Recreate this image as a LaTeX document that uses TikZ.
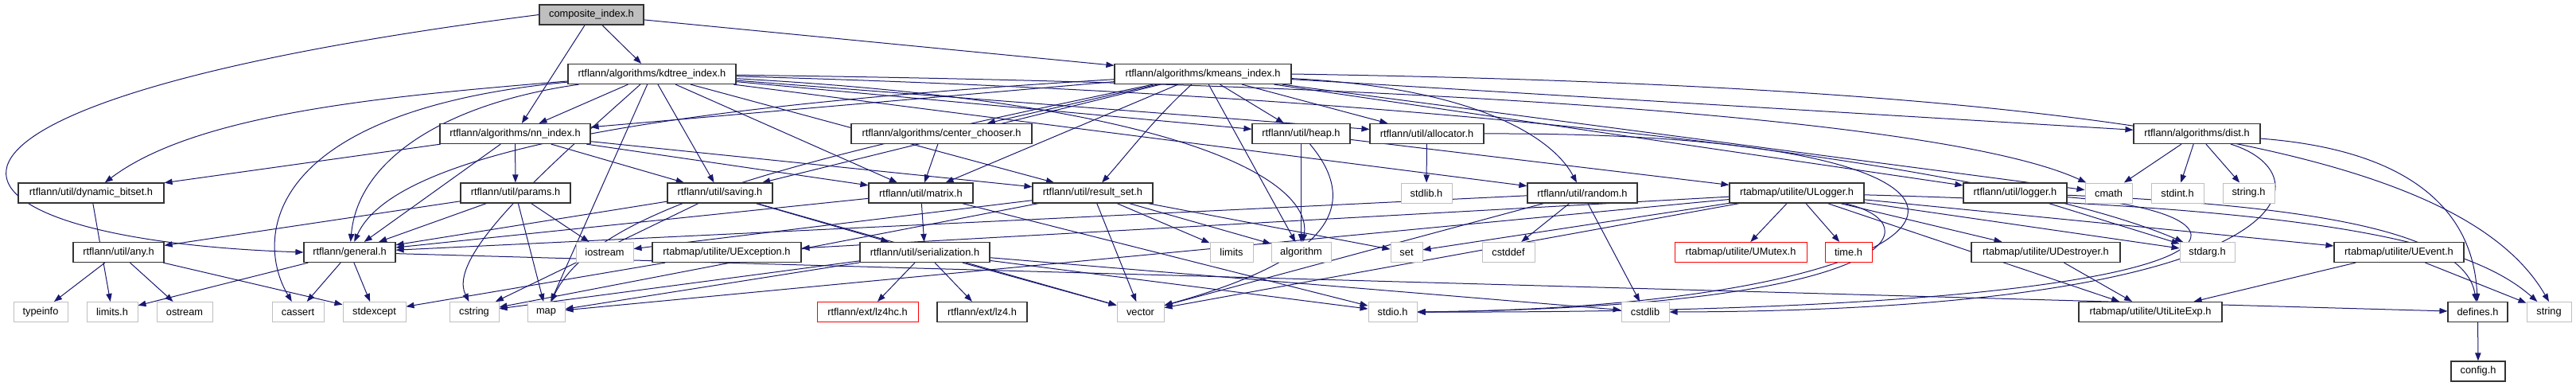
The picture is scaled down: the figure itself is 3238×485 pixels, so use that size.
\documentclass[tikz,border=0pt]{standalone}
\usepackage{fontspec}
\setmainfont{Liberation Sans}
\usetikzlibrary{arrows.meta, backgrounds}

\definecolor{edgeblue}{RGB}{25,25,112}
\definecolor{sysgray}{RGB}{191,191,191}

\begin{document}
\begin{tikzpicture}[
    x=0.75pt, y=-0.75pt,
    font=\fontsize{9.6}{11}\selectfont,
    hdr/.style={draw=black!80, line width=0.9pt, fill=white, minimum height=18.75pt, inner sep=0pt},
    sys/.style={hdr, draw=sysgray, line width=0.75pt},
    nofile/.style={hdr, draw=red, line width=0.75pt},
    root/.style={hdr, fill=sysgray},
    wd/.style={minimum width=#1*0.75pt},
    arrow/.style={-{Triangle[length=7.5pt, width=5.5pt]}, edgeblue, line width=0.75pt}
]
\useasboundingbox (0,0) rectangle (3238,485);

% --- Top ---
\node[root, wd=131] (comp) at (743.5,18.5) {composite\_index.h};

% --- Indexes ---
\node[hdr, wd=211] (kdtree) at (819.5,93) {rtflann/algorithms/kdtree\_index.h};
\node[hdr, wd=222] (kmeans) at (1512,93) {rtflann/algorithms/kmeans\_index.h};

\node[hdr, wd=189] (nnidx) at (647.5,168) {rtflann/algorithms/nn\_index.h};
\node[hdr, wd=227] (chooser) at (1183.5,168) {rtflann/algorithms/center\_chooser.h};
\node[hdr, wd=123] (heap) at (1635.5,168) {rtflann/util/heap.h};
\node[hdr, wd=143] (alloc) at (1793.5,168) {rtflann/util/allocator.h};
\node[hdr, wd=159] (dist) at (2761.5,168) {rtflann/algorithms/dist.h};

% --- Utilities ---
\node[hdr, wd=183] (dynbits) at (114.5,242.5) {rtflann/util/dynamic\_bitset.h};
\node[hdr, wd=138] (params) at (648,242.5) {rtflann/util/params.h};
\node[hdr, wd=132] (saving) at (905,242.5) {rtflann/util/saving.h};
\node[hdr, wd=131] (matrix) at (1157.5,242.5) {rtflann/util/matrix.h};
\node[hdr, wd=151] (resset) at (1373.5,242.5) {rtflann/util/result\_set.h};
\node[sys, wd=64] (stdlibh) at (1793,242.5) {stdlib.h};
\node[hdr, wd=138] (random) at (1989,242.5) {rtflann/util/random.h};
\node[hdr, wd=169] (ulogger) at (2258.5,242.5) {rtabmap/utilite/ULogger.h};
\node[hdr, wd=130] (logger) at (2533,242.5) {rtflann/util/logger.h};
\node[sys, wd=59] (cmath) at (2650.5,242.5) {cmath};
\node[sys, wd=66] (stdint) at (2737,242.5) {stdint.h};
\node[sys, wd=65] (stringh) at (2826.5,242.5) {string.h};

\node[hdr, wd=114] (any) at (149,317) {rtflann/util/any.h};
\node[hdr, wd=115] (general) at (439.5,317) {rtflann/general.h};
\node[sys, wd=72] (iostream) at (760,317) {iostream};
\node[hdr, wd=187] (uexcept) at (913.5,317) {rtabmap/utilite/UException.h};
\node[hdr, wd=163] (serial) at (1162.5,317) {rtflann/util/serialization.h};
\node[sys, wd=54] (limits) at (1548,317) {limits};
\node[sys, wd=75] (algorithm) at (1635.5,317) {algorithm};
\node[sys, wd=40] (set) at (1768,317) {set};
\node[sys, wd=66] (cstddef) at (1896,317) {cstddef};
\node[nofile, wd=166] (umutex) at (2188,317) {rtabmap/utilite/UMutex.h};
\node[nofile, wd=59] (timeh) at (2323.5,317) {time.h};
\node[hdr, wd=187] (udestroy) at (2571.5,317) {rtabmap/utilite/UDestroyer.h};
\node[sys, wd=69] (stdarg) at (2774.5,317) {stdarg.h};
\node[hdr, wd=163] (uevent) at (3015.5,317) {rtabmap/utilite/UEvent.h};

% --- Leaves ---
\node[sys, wd=68] (typeinfo) at (51,392) {typeinfo};
\node[sys, wd=64] (limitsh) at (141,392) {limits.h};
\node[sys, wd=70] (ostream) at (232,392) {ostream};
\node[sys, wd=65] (cassert) at (374.5,392) {cassert};
\node[sys, wd=79] (stdexcept) at (470.5,392) {stdexcept};
\node[sys, wd=62] (cstring) at (596,392) {cstring};
\node[sys, wd=47] (map) at (686.5,392) {map};
\node[nofile, wd=127] (lzfourhc) at (1090.5,392) {rtflann/ext/lz4hc.h};
\node[hdr, wd=113] (lzfour) at (1234.5,392) {rtflann/ext/lz4.h};
\node[sys, wd=59] (vector) at (1433.5,392) {vector};
\node[sys, wd=61] (stdio) at (1750.5,392) {stdio.h};
\node[sys, wd=60] (cstdlib) at (2068,392) {cstdlib};
\node[hdr, wd=180] (utexp) at (2703,392) {rtabmap/utilite/UtiLiteExp.h};
\node[hdr, wd=75] (defines) at (3114.5,392) {defines.h};
\node[sys, wd=56] (string) at (3204,392) {string};
\node[hdr, wd=68] (config) at (3115,466.5) {config.h};

\begin{pgfonlayer}{background}
% --- composite_index.h ---
\draw[arrow] (comp.west) .. controls (-200,130) and (-120,300) .. (general.west);
\draw[arrow] (comp) -- (nnidx);
\draw[arrow] (comp) -- (kdtree);
\draw[arrow] (comp) -- (kmeans);

% --- kdtree_index.h ---
\draw[arrow] (kdtree) -- (nnidx);
\draw[arrow] (kdtree) .. controls (560,130) and (450,200) .. (general);
\draw[arrow] (kdtree) .. controls (500,120) and (250,140) .. (dynbits);
\draw[arrow] (kdtree) -- (matrix);
\draw[arrow] (kdtree) -- (resset);
\draw[arrow] (kdtree) -- (heap);
\draw[arrow] (kdtree) -- (alloc);
\draw[arrow] (kdtree) -- (random);
\draw[arrow] (kdtree) -- (saving);
\draw[arrow] (kdtree) .. controls (1500,130) and (1650,230) .. (algorithm);
\draw[arrow] (kdtree) -- (map);
\draw[arrow] (kdtree) .. controls (330,140) and (320,300) .. (cassert);
\draw[arrow] (kdtree) .. controls (700,200) and (560,320) .. (cstring);
\draw[arrow] (kdtree) .. controls (1800,120) and (2500,200) .. (stdarg);
\draw[arrow] (kdtree) .. controls (1800,105) and (2450,150) .. (cmath);

% --- kmeans_index.h ---
\draw[arrow] (kmeans) -- (nnidx);
\draw[arrow] (kmeans) .. controls (900,130) and (500,180) .. (general);
\draw[arrow] (kmeans) -- (dist);
\draw[arrow] (kmeans) -- (chooser);
\draw[arrow] (kmeans) -- (matrix);
\draw[arrow] (kmeans) .. controls (1450,150) and (1420,190) .. (resset);
\draw[arrow] (kmeans) -- (heap);
\draw[arrow] (kmeans) -- (alloc);
\draw[arrow] (kmeans) .. controls (1850,110) and (1950,170) .. (random);
\draw[arrow] (kmeans) -- (logger);
\draw[arrow] (kmeans) -- (saving);
\draw[arrow] (kmeans) -- (algorithm);
\draw[arrow] (kmeans.east) .. controls (2700,110) and (3100,200) .. (string.north);
\draw[arrow] (kmeans) .. controls (1000,200) and (750,260) .. (map);
\draw[arrow] (kmeans) -- (cmath);

% --- nn_index.h ---
\draw[arrow] (nnidx) -- (general);
\draw[arrow] (nnidx) -- (matrix);
\draw[arrow] (nnidx) -- (params);
\draw[arrow] (nnidx) -- (resset);
\draw[arrow] (nnidx) -- (dynbits);
\draw[arrow] (nnidx) -- (saving);

% --- middle layer ---
\draw[arrow] (chooser) -- (matrix);
\draw[arrow] (heap) -- (algorithm);
\draw[arrow] (heap) .. controls (1730,280) and (1620,340) .. (vector);
\draw[arrow] (heap) -- (ulogger);
\draw[arrow] (alloc) -- (stdlibh);
\draw[arrow] (alloc.east) .. controls (2650,165) and (2520,385) .. (stdio.east);
\draw[arrow] (dist) -- (cmath);
\draw[arrow] (dist) -- (stdint);
\draw[arrow] (dist) -- (stringh);
\draw[arrow] (dist) .. controls (3050,190) and (3110,280) .. (defines);
\draw[arrow] (dist) .. controls (2930,220) and (2900,390) .. (cstdlib.east);
\draw[arrow] (dynbits) -- (limitsh);

% --- utilities ---
\draw[arrow] (params) -- (any);
\draw[arrow] (params) -- (general);
\draw[arrow] (params) -- (iostream);
\draw[arrow] (params) -- (map);
\draw[arrow] (saving) -- (general);
\draw[arrow] (saving) -- (serial);
\draw[arrow] (saving) -- (cstring);
\draw[arrow] (saving) -- (vector);
\draw[arrow] (matrix) -- (general);
\draw[arrow] (matrix) -- (serial);
\draw[arrow] (matrix) -- (stdio);
\draw[arrow] (resset) -- (algorithm);
\draw[arrow] (resset) -- (cstring);
\draw[arrow] (resset) -- (iostream);
\draw[arrow] (resset) -- (limits);
\draw[arrow] (resset) -- (set);
\draw[arrow] (resset) -- (vector);
\draw[arrow] (random) -- (general);
\draw[arrow] (random) -- (cstddef);
\draw[arrow] (random) -- (cstdlib);
\draw[arrow] (random) -- (vector);
\draw[arrow] (logger) -- (stdarg);
\draw[arrow] (logger) .. controls (2950,260) and (3100,300) .. (defines);
\draw[arrow] (logger) .. controls (2880,270) and (2870,395) .. (stdio.east);

% --- ULogger.h ---
\draw[arrow] (ulogger) -- (utexp);
\draw[arrow] (ulogger) -- (umutex);
\draw[arrow] (ulogger) -- (udestroy);
\draw[arrow] (ulogger) -- (uevent);
\draw[arrow] (ulogger) -- (uexcept);
\draw[arrow] (ulogger) .. controls (2430,280) and (2400,385) .. (stdio.east);
\draw[arrow] (ulogger) -- (timeh);
\draw[arrow] (ulogger) .. controls (2900,260) and (3100,300) .. (string);
\draw[arrow] (ulogger) -- (vector);
\draw[arrow] (ulogger) -- (map);
\draw[arrow] (ulogger) -- (set);
\draw[arrow] (ulogger) -- (stdarg);

% --- lower layer ---
\draw[arrow] (any) -- (typeinfo);
\draw[arrow] (any) -- (ostream);
\draw[arrow] (any) -- (stdexcept);
\draw[arrow] (general) -- (defines);
\draw[arrow] (general) -- (stdexcept);
\draw[arrow] (general) -- (cassert);
\draw[arrow] (general) -- (limitsh);
\draw[arrow] (uexcept) -- (stdexcept);
\draw[arrow] (serial) -- (vector);
\draw[arrow] (serial) -- (map);
\draw[arrow] (serial) -- (cstdlib);
\draw[arrow] (serial) -- (cstring);
\draw[arrow] (serial) -- (stdio);
\draw[arrow] (serial) -- (lzfour);
\draw[arrow] (serial) -- (lzfourhc);
\draw[arrow] (udestroy) -- (utexp);
\draw[arrow] (uevent) -- (utexp);
\draw[arrow] (uevent) -- (string);
\draw[arrow] (defines) -- (config);
\end{pgfonlayer}

\end{tikzpicture}
\end{document}
